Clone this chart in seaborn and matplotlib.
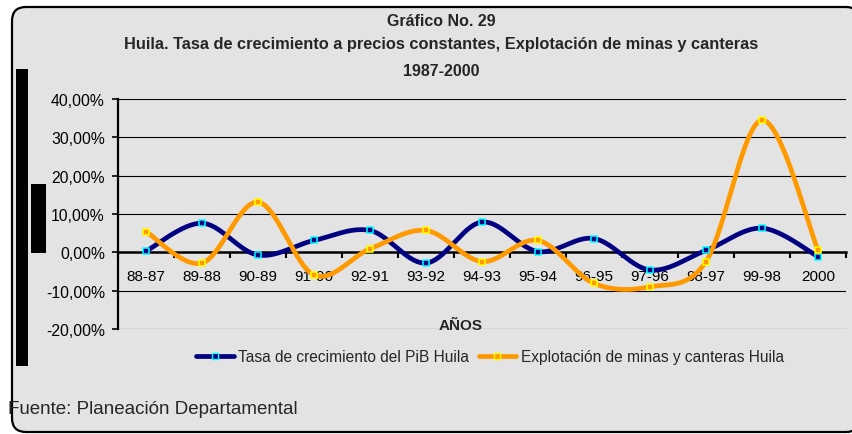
import numpy as np
import pandas as pd
import matplotlib
matplotlib.use("Agg")
import matplotlib.pyplot as plt
import matplotlib.ticker as mtick
from matplotlib.patches import FancyBboxPatch, Rectangle
from matplotlib.lines import Line2D
from matplotlib.transforms import IdentityTransform
import seaborn as sns

sns.set_theme(style='white')
plt.rcParams['font.family'] = ['Liberation Sans', 'DejaVu Sans']

NAVY = '#000080'
ORANGE = '#FF9900'
BG = '#e3e3e3'
W, H = 853, 435

periodos = ['88-87', '89-88', '90-89', '91-90', '92-91', '93-92', '94-93',
            '95-94', '96-95', '97-96', '98-97', '99-98', '2000']
pib_huila = [0.3, 7.6, -0.7, 3.1, 5.7, -2.8, 7.9, 0.2, 3.6, -4.6, 0.5, 6.3, -1.1]
minas_huila = [5.4, -2.8, 13.1, -5.9, 0.9, 5.7, -2.4, 3.1, -8.1, -9.0, -2.4, 34.5, 0.6]

label_pib = 'Tasa de crecimiento del PiB Huila'
label_minas = 'Explotación de minas y canteras Huila'


def smooth(y, n=40):
    """ Excel-like smoothed line: cubic bezier with catmull-rom control points """
    y = np.asarray(y, dtype=float)
    x = np.arange(len(y), dtype=float)
    t = np.linspace(0, 1, n)
    xs, ys = [], []
    for i in range(len(y) - 1):
        i0, i3 = max(i - 1, 0), min(i + 2, len(y) - 1)
        c1x = x[i] + (x[i + 1] - x[i0]) / 6
        c1y = y[i] + (y[i + 1] - y[i0]) / 6
        c2x = x[i + 1] - (x[i3] - x[i]) / 6
        c2y = y[i + 1] - (y[i3] - y[i]) / 6
        b0, b1, b2, b3 = (1 - t) ** 3, 3 * (1 - t) ** 2 * t, 3 * (1 - t) * t ** 2, t ** 3
        xs.extend(b0 * x[i] + b1 * c1x + b2 * c2x + b3 * x[i + 1])
        ys.extend(b0 * y[i] + b1 * c1y + b2 * c2y + b3 * y[i + 1])
    return np.array(xs), np.array(ys)


def px(x, y):
    # picture pixels (top-left origin) -> display coords
    return x, H - y


fig = plt.figure(figsize=(W / 100, H / 100), dpi=100, facecolor='white')

# rounded frame + the black bars on the left edge
fig.add_artist(FancyBboxPatch(px(12, 433), 860 - 12, 433 - 8,
                              boxstyle='round,pad=0,rounding_size=14',
                              transform=IdentityTransform(), facecolor=BG,
                              edgecolor='black', linewidth=1.6, zorder=-2))
fig.add_artist(Rectangle(px(16, 367), 12, 297, transform=IdentityTransform(),
                         facecolor='black', edgecolor='none', zorder=-1))
fig.add_artist(Rectangle(px(31, 254), 15, 69, transform=IdentityTransform(),
                         facecolor='black', edgecolor='none', zorder=-1))

ax = fig.add_axes([118 / W, 1 - 330 / H, (846 - 118) / W, 230 / H])
ax.patch.set_alpha(0)

x = np.arange(len(periodos))
for vals, col, edge in [(pib_huila, NAVY, '#00FFFF'), (minas_huila, ORANGE, '#FFFF00')]:
    sx, sy = smooth(vals)
    sns.lineplot(x=sx, y=sy, sort=False, color=col, linewidth=3.4,
                 estimator=None, legend=False, ax=ax, zorder=3)
    sns.scatterplot(x=x, y=vals, marker='s', s=18, color=col,
                    edgecolor=edge, linewidth=1.1, legend=False, ax=ax, zorder=4)

ax.set_xlim(-0.5, 12.5)
ax.set_ylim(-20, 40)
ax.set_yticks(range(-20, 41, 10))
ax.yaxis.set_major_formatter(mtick.FuncFormatter(lambda v, p: f'{v:.2f}%'.replace('.', ',')))
ax.set_xticks(x)
ax.set_xticklabels(periodos)
ax.set_xticks(np.arange(-0.5, 13, 1), minor=True)

ax.grid(False)
for v in range(-20, 41, 10):
    if v != 0:
        ax.axhline(v, color='black', linewidth=0.8, zorder=1)

for s in ['top', 'right']:
    ax.spines[s].set_visible(False)
ax.spines['left'].set_color('black')
ax.spines['left'].set_linewidth(1.6)
ax.spines['bottom'].set_position(('data', 0))
ax.spines['bottom'].set_color('black')
ax.spines['bottom'].set_linewidth(1.8)
ax.spines['bottom'].set_zorder(2)

ax.tick_params(axis='y', which='major', direction='out', length=4.5, width=1.2,
               color='black', pad=5, labelsize=11.3, labelcolor='black', left=True)
ax.tick_params(axis='x', which='major', length=0, pad=12, labelsize=11, labelcolor='black')
ax.tick_params(axis='x', which='minor', direction='out', length=4, width=1.5,
               color='black', bottom=True)
ax.set_xlabel('')
ax.set_ylabel('')

# titles
fig.text(441 / W, 1 - 22 / H, 'Gráfico No. 29', ha='center', va='center',
         fontsize=11.5, fontweight='bold')
fig.text(441 / W, 1 - 45 / H,
         'Huila. Tasa de crecimiento a precios constantes, Explotación de minas y canteras',
         ha='center', va='center', fontsize=11.8, fontweight='bold')
fig.text(441 / W, 1 - 72 / H, '1987-2000', ha='center', va='center',
         fontsize=11.5, fontweight='bold')
fig.text(461 / W, 1 - 326 / H, 'AÑOS', ha='center', va='center',
         fontsize=11, fontweight='bold')
fig.text(8 / W, 1 - 410 / H, 'Fuente: Planeación Departamental', ha='left', va='center',
         fontsize=13.5)

handles = [Line2D([], [], color=NAVY, lw=3.4, marker='s', markersize=4.5,
                  markeredgecolor='#00FFFF', markerfacecolor=NAVY),
           Line2D([], [], color=ORANGE, lw=3.4, marker='s', markersize=4.5,
                  markeredgecolor='#FFFF00', markerfacecolor=ORANGE)]
fig.legend(handles, [label_pib, label_minas], loc='center',
           bbox_to_anchor=(490 / W, 1 - 358 / H), ncol=2, frameon=False,
           fontsize=11.2, handlelength=2.4, handletextpad=0.3, columnspacing=0.6)

fig.savefig('out.png', dpi=100, facecolor='white')
